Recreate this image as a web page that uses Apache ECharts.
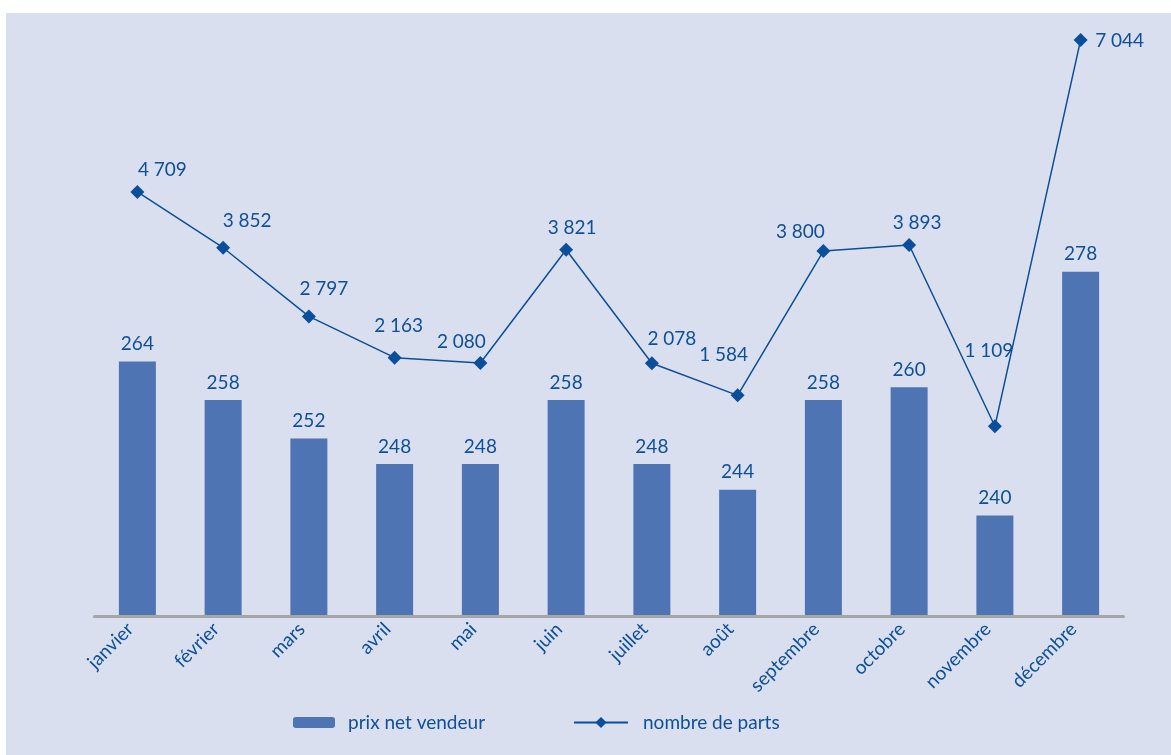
<!DOCTYPE html>
<html>
<head>
<meta charset="utf-8">
<script src="https://cdn.jsdelivr.net/npm/echarts@6/dist/echarts.min.js"></script>
<style>
  html, body { margin: 0; padding: 0; background: #ffffff; }
  #chart { position: absolute; left: 6px; top: 13px; width: 1165px; height: 742px; background: #d9dfee; }
</style>
</head>
<body>
<div id="chart"></div>
<script>
// ---- data ----
const months = ['janvier', 'février', 'mars', 'avril', 'mai', 'juin', 'juillet', 'août', 'septembre', 'octobre', 'novembre', 'décembre'];
const prixNetVendeur = [264, 258, 252, 248, 248, 258, 248, 244, 258, 260, 240, 278];
const nombreDeParts = [4709, 3852, 2797, 2163, 2080, 3821, 2078, 1584, 3800, 3893, 1109, 7044];
const seriesNames = ['prix net vendeur', 'nombre de parts'];

// ---- style ----
const BLUE_TEXT = '#0d4f9c';
const BAR_COLOR = '#4f74b4';
const LINE_COLOR = '#0b4f9c';
const FONT = 'Lato, "Open Sans", sans-serif';
// label nudges (dx, dy) relative to each marker
const lineLabelOffsets = [[25,-22],[24,-27],[15,-28],[4,-32],[-19,-21],[6,-22],[20,-24],[-14,-40],[-23,-19],[8,-22],[-6,-75],[39,1]];

function fmt(v) { return String(v).replace(/\B(?=(\d{3})+(?!\d))/g, ' '); }

const chart = echarts.init(document.getElementById('chart'), null, { renderer: 'canvas' });

const lineData = nombreDeParts.map((v, i) => ({
  value: v,
  label: { offset: lineLabelOffsets[i] }
}));

chart.setOption({
  backgroundColor: '#d9dfee',
  animation: false,
  textStyle: { fontFamily: FONT },
  grid: { left: 88.5, width: 1029, top: 23, height: 580 },
  legend: [
    {
      data: [seriesNames[0]], left: 282, top: 695, itemWidth: 42, itemHeight: 11,
      textStyle: { color: BLUE_TEXT, fontSize: 19, fontFamily: FONT, padding: [0, 0, 0, 8] }
    },
    {
      data: [seriesNames[1]], left: 562, top: 695, itemWidth: 54, itemHeight: 14,
      textStyle: { color: BLUE_TEXT, fontSize: 19, fontFamily: FONT, padding: [0, 0, 0, 10] }
    }
  ],
  xAxis: {
    type: 'category', data: months, boundaryGap: true, z: 5,
    axisLine: { show: true, onZero: false, lineStyle: { color: '#a6a6a6', width: 3 } },
    axisTick: { show: false },
    axisLabel: { rotate: 45, color: BLUE_TEXT, fontSize: 19, fontFamily: FONT, margin: 3,
                 padding: [0, 10, 0, 0], interval: 0 }
  },
  yAxis: [
    { type: 'value', min: 224.3, max: 314.8, show: false, splitLine: { show: false } },
    { type: 'value', min: -1805, max: 7104, show: false, splitLine: { show: false } }
  ],
  series: [
    {
      name: seriesNames[0], type: 'bar', yAxisIndex: 0, data: prixNetVendeur,
      barWidth: 37, itemStyle: { color: BAR_COLOR },
      label: { show: true, position: 'top', distance: 8, color: BLUE_TEXT, fontSize: 19, fontFamily: FONT }
    },
    {
      name: seriesNames[1], type: 'line', yAxisIndex: 1, data: lineData,
      symbol: 'diamond', symbolSize: 14,
      itemStyle: { color: LINE_COLOR },
      lineStyle: { color: LINE_COLOR, width: 1.5 },
      label: { show: true, position: 'inside', color: BLUE_TEXT, fontSize: 19, fontFamily: FONT,
               formatter: p => fmt(p.value) },
      z: 4
    }
  ]
});
</script>
</body>
</html>
